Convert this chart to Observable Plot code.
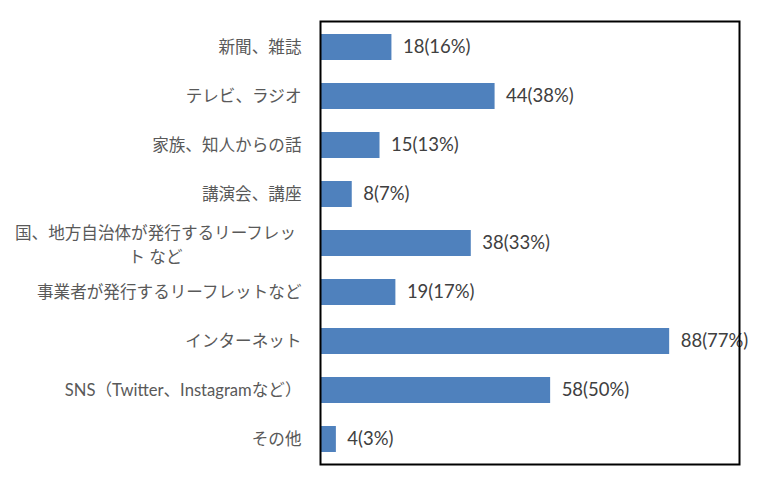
<!DOCTYPE html>
<html>
<head>
<meta charset="utf-8">
<script src="https://cdn.jsdelivr.net/npm/d3@7"></script>
<script src="https://cdn.jsdelivr.net/npm/@observablehq/plot@0.6"></script>
<style>
  html, body { margin: 0; padding: 0; background: #fff; }
</style>
</head>
<body>
<div id="chart"></div>
<script>
const categories = [
  "新聞、雑誌",
  "テレビ、ラジオ",
  "家族、知人からの話",
  "講演会、講座",
  "国、地方自治体が発行するリーフレット など",
  "事業者が発行するリーフレットなど",
  "インターネット",
  "SNS（Twitter、Instagramなど）",
  "その他"
];
const counts = [18, 44, 15, 8, 38, 19, 88, 58, 4];
const percents = [16, 38, 13, 7, 33, 17, 77, 50, 3];
const wrapped = {"国、地方自治体が発行するリーフレット など": "国、地方自治体が発行するリーフレッ\nト など"};

const data = categories.map((c, i) => ({cat: c, n: counts[i], pct: percents[i], label: `${counts[i]}(${percents[i]}%)`}));
const wrappedData = data.filter(d => wrapped[d.cat]);
const plainTicks = categories.filter(c => !wrapped[c]);

const jp = "Lato, 'Noto Sans CJK JP', sans-serif";

const chart = Plot.plot({
  width: 757,
  height: 479,
  marginLeft: 320,
  marginRight: 18,
  marginTop: 21,
  marginBottom: 15,
  style: {fontFamily: jp, background: "#fff"},
  x: {domain: [0, 105.6], axis: null},
  y: {domain: categories, paddingInner: 0.47, paddingOuter: 0.235, label: null},
  marks: [
    Plot.barX(data, {x: "n", y: "cat", fill: "#4F81BD"}),
    Plot.text(data, {x: "n", y: "cat", text: "label", textAnchor: "start", dx: 11, fontSize: 18.5, fill: "#404040", fontFamily: "Lato, 'Open Sans', sans-serif"}),
    Plot.axisY({
      ticks: plainTicks,
      tickSize: 0, tickPadding: 19, fontSize: 16.6, fill: "#595959", label: null
    }),
    Plot.text(wrappedData, {
      y: "cat", text: d => wrapped[d.cat], frameAnchor: "left",
      textAnchor: "middle", dx: -165, fontSize: 16.6, fill: "#595959", lineHeight: 1.42
    }),
    Plot.frame({stroke: "#000", strokeWidth: 2})
  ]
});
document.getElementById("chart").appendChild(chart);
</script>
</body>
</html>
